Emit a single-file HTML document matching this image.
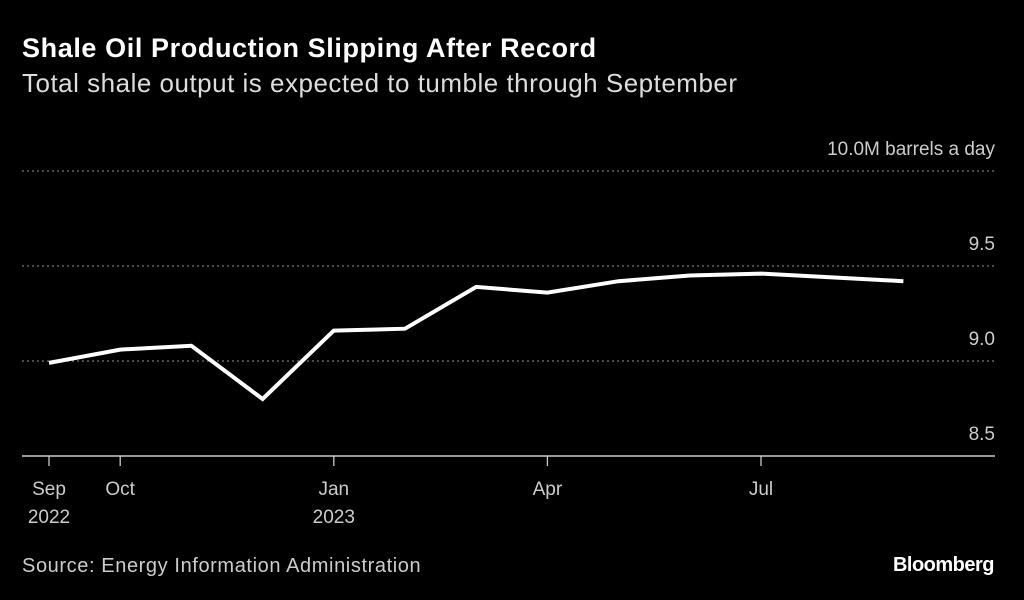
<!DOCTYPE html>
<html><head><meta charset="utf-8"><style>
body{margin:0;background:#000;width:1024px;height:600px;overflow:hidden;font-family:"Liberation Sans",sans-serif;color:#fff}
.t{position:absolute;left:22px;top:33px;font-size:27px;font-weight:bold;letter-spacing:0.6px;white-space:nowrap}
.s{position:absolute;left:22px;top:68px;font-size:26px;color:#ddd;letter-spacing:0.5px;white-space:nowrap}
.src{position:absolute;left:22px;top:555px;font-size:20px;color:#ccc;letter-spacing:0.6px}
.bb{position:absolute;right:30px;top:554px;font-size:20px;font-weight:bold;letter-spacing:-0.5px}
</style></head><body>
<div class="t">Shale Oil Production Slipping After Record</div>
<div class="s">Total shale output is expected to tumble through September</div>
<svg id="c" width="1024" height="600" style="position:absolute;left:0;top:0"></svg>
<div class="src">Source: Energy Information Administration</div>
<div class="bb">Bloomberg</div>
<script>
const months=["2022-09","2022-10","2022-11","2022-12","2023-01","2023-02","2023-03","2023-04","2023-05","2023-06","2023-07","2023-08","2023-09"];
const values=[8.99,9.06,9.08,8.80,9.16,9.17,9.39,9.36,9.42,9.45,9.46,9.44,9.42];
const yTicks=[8.5,9.0,9.5,10.0];
const yTickLabels=["8.5","9.0","9.5","10.0M barrels a day"];
const xTickIdx=[0,1,4,7,10];
const xTickLabels=[["Sep","2022"],["Oct",""],["Jan","2023"],["Apr",""],["Jul",""]];
const svg=document.getElementById('c');const NS="http://www.w3.org/2000/svg";
const x=i=>49+71.2*i;const y=v=>456-(v-8.5)*190;
function mk(t,a,txt){const e=document.createElementNS(NS,t);for(const k in a)e.setAttribute(k,a[k]);if(txt!==undefined)e.textContent=txt;svg.appendChild(e);return e;}
yTicks.forEach((v,i)=>{
 if(i>0){const g=mk('line',{x1:22,x2:995,y1:y(v),y2:y(v),stroke:'#777','stroke-width':1.3,'stroke-dasharray':'2,3'});
 
 }
 const t=mk('text',{x:995,y:y(v)-16,'text-anchor':'end',fill:'#ccc','font-size':19,'font-family':'Liberation Sans, sans-serif'},yTickLabels[i]);
 
 
});
const ax=mk('line',{x1:22,x2:995,y1:456,y2:456,stroke:'#ccc','stroke-width':1.5});


xTickIdx.forEach((idx,j)=>{
 const tk=mk('line',{x1:x(idx),x2:x(idx),y1:456,y2:466,stroke:'#ccc','stroke-width':1.3});
 
 
 xTickLabels[j].forEach((s,k)=>{if(!s)return;
  const t=mk('text',{x:x(idx),y:495+k*28,'text-anchor':'middle',fill:'#ccc','font-size':19,'font-family':'Liberation Sans, sans-serif'},s);
  
  });
});
const p=mk('polyline',{points:values.map((v,i)=>x(i)+','+y(v)).join(' '),fill:'none',stroke:'#fff','stroke-width':4,'stroke-linejoin':'miter'});


</script>
</body></html>
